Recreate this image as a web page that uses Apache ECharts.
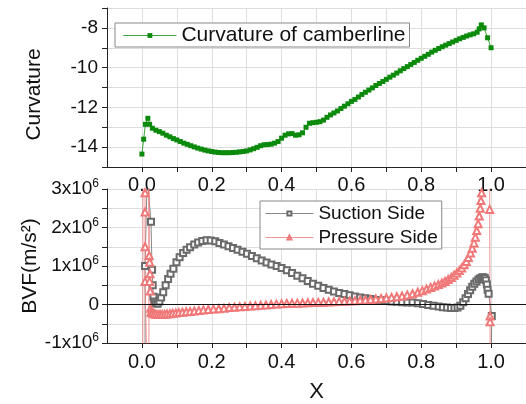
<!DOCTYPE html>
<html><head><meta charset="utf-8">
<script src="https://cdn.jsdelivr.net/npm/echarts@6/dist/echarts.min.js"></script>
<style>html,body{margin:0;padding:0;background:#fff}#c{width:526px;height:404px}</style>
</head><body><div id="c"></div>
<script>
// ---- Curvature of camberline (top panel) ----
const curvX = [0.000,0.005,0.010,0.017,0.022,0.030,0.040,0.050,0.060,0.070,0.080,0.090,0.100,0.110,0.120,0.130,0.140,0.150,0.160,0.170,0.180,0.190,0.200,0.210,0.220,0.230,0.240,0.250,0.260,0.270,0.280,0.290,0.300,0.310,0.320,0.330,0.340,0.350,0.360,0.370,0.380,0.390,0.400,0.410,0.420,0.430,0.440,0.450,0.460,0.470,0.480,0.490,0.500,0.510,0.520,0.530,0.540,0.550,0.560,0.570,0.580,0.590,0.600,0.610,0.620,0.630,0.640,0.650,0.660,0.670,0.680,0.690,0.700,0.710,0.720,0.730,0.740,0.750,0.760,0.770,0.780,0.790,0.800,0.810,0.820,0.830,0.840,0.850,0.860,0.870,0.880,0.890,0.900,0.910,0.920,0.930,0.940,0.950,0.960,0.966,0.972,0.980,0.990,1.000];
const curvY = [-14.35,-13.6,-12.85,-12.55,-12.85,-13.05,-13.15,-13.22,-13.30,-13.40,-13.48,-13.57,-13.64,-13.72,-13.80,-13.86,-13.93,-13.99,-14.05,-14.10,-14.15,-14.19,-14.22,-14.25,-14.27,-14.28,-14.28,-14.28,-14.27,-14.26,-14.24,-14.22,-14.19,-14.14,-14.08,-14.01,-13.93,-13.88,-13.87,-13.85,-13.80,-13.72,-13.55,-13.40,-13.33,-13.32,-13.40,-13.38,-13.28,-13.00,-12.80,-12.77,-12.75,-12.72,-12.64,-12.50,-12.38,-12.28,-12.18,-12.06,-11.94,-11.82,-11.70,-11.60,-11.48,-11.35,-11.24,-11.13,-11.02,-10.90,-10.80,-10.70,-10.59,-10.48,-10.38,-10.27,-10.16,-10.05,-9.95,-9.84,-9.74,-9.63,-9.53,-9.43,-9.33,-9.22,-9.13,-9.04,-8.95,-8.87,-8.79,-8.71,-8.63,-8.55,-8.48,-8.41,-8.35,-8.30,-8.22,-8.05,-7.85,-8.00,-8.50,-9.00];

// ---- BVF (bottom panel) ----
const suctionX = [0.009,0.009,0.015,0.026,0.029,0.031,0.033,0.036,0.040,0.045,0.050,0.055,0.061,0.068,0.075,0.082,0.090,0.099,0.108,0.118,0.128,0.138,0.150,0.161,0.173,0.185,0.197,0.210,0.222,0.235,0.248,0.261,0.274,0.288,0.301,0.315,0.329,0.343,0.357,0.371,0.386,0.400,0.415,0.430,0.445,0.460,0.475,0.490,0.505,0.520,0.535,0.550,0.565,0.580,0.595,0.610,0.625,0.640,0.655,0.670,0.685,0.700,0.715,0.730,0.745,0.760,0.775,0.790,0.805,0.820,0.835,0.850,0.862,0.874,0.885,0.895,0.904,0.912,0.920,0.927,0.934,0.940,0.946,0.952,0.958,0.964,0.969,0.974,0.978,0.982,0.985,0.988,0.990,0.993,1.002,0.996];
const suctionY = [-4e6,1.0e6,3.3e6,2.15e6,0.9e6,0.5e6,0.2e6,0.08e6,0.03e6,0.02e6,0.08e6,0.18e6,0.32e6,0.5e6,0.66e6,0.8e6,0.93e6,1.1e6,1.23e6,1.34e6,1.42e6,1.49e6,1.56e6,1.61e6,1.65e6,1.67e6,1.665e6,1.64e6,1.6e6,1.56e6,1.51e6,1.47e6,1.42e6,1.37e6,1.32e6,1.26e6,1.2e6,1.14e6,1.09e6,1.04e6,1.0e6,0.95e6,0.89e6,0.82e6,0.75e6,0.68e6,0.61e6,0.54e6,0.49e6,0.43e6,0.38e6,0.34e6,0.3e6,0.27e6,0.24e6,0.21e6,0.18e6,0.16e6,0.14e6,0.12e6,0.11e6,0.1e6,0.08e6,0.07e6,0.06e6,0.05e6,0.05e6,0.03e6,0.01e6,-0.01e6,-0.03e6,-0.05e6,-0.07e6,-0.08e6,-0.09e6,-0.09e6,-0.08e6,-0.03e6,0.06e6,0.16e6,0.27e6,0.37e6,0.46e6,0.54e6,0.6e6,0.65e6,0.68e6,0.7e6,0.71e6,0.69e6,0.63e6,0.52e6,0.38e6,0.28e6,-0.3e6,-4e6];
const pressureX = [0.002,0.003,0.009,0.009,0.009,0.009,0.020,0.020,0.021,0.022,0.023,0.022,0.024,0.025,0.026,0.030,0.035,0.040,0.046,0.052,0.058,0.065,0.072,0.080,0.088,0.097,0.106,0.116,0.127,0.138,0.150,0.163,0.176,0.190,0.205,0.220,0.235,0.250,0.265,0.280,0.295,0.310,0.325,0.340,0.355,0.370,0.385,0.400,0.415,0.430,0.445,0.460,0.475,0.490,0.505,0.520,0.535,0.550,0.565,0.580,0.595,0.610,0.625,0.640,0.655,0.670,0.685,0.700,0.715,0.730,0.745,0.760,0.775,0.790,0.803,0.815,0.827,0.838,0.849,0.859,0.868,0.877,0.886,0.894,0.902,0.909,0.916,0.923,0.929,0.935,0.941,0.946,0.951,0.955,0.959,0.963,0.966,0.969,0.971,0.973,0.980,0.996,0.996,0.997,0.997,0.998];
const pressureY = [-4e6,3.5e6,2.9e6,2.4e6,1.5e6,0.6e6,-4e6,3.5e6,1.27e6,1.1e6,0.8e6,0.6e6,0.35e6,-0.1e6,-0.2e6,-0.22e6,-0.24e6,-0.25e6,-0.26e6,-0.26e6,-0.26e6,-0.25e6,-0.245e6,-0.24e6,-0.23e6,-0.22e6,-0.21e6,-0.2e6,-0.19e6,-0.18e6,-0.17e6,-0.155e6,-0.14e6,-0.13e6,-0.12e6,-0.11e6,-0.1e6,-0.08e6,-0.07e6,-0.06e6,-0.05e6,-0.04e6,-0.03e6,-0.02e6,-0.01e6,0,0.01e6,0.02e6,0.025e6,0.03e6,0.035e6,0.04e6,0.045e6,0.05e6,0.055e6,0.06e6,0.065e6,0.07e6,0.08e6,0.085e6,0.09e6,0.1e6,0.11e6,0.12e6,0.13e6,0.14e6,0.155e6,0.17e6,0.185e6,0.2e6,0.22e6,0.25e6,0.28e6,0.32e6,0.36e6,0.4e6,0.44e6,0.48e6,0.52e6,0.56e6,0.6e6,0.65e6,0.7e6,0.76e6,0.82e6,0.88e6,0.95e6,1.03e6,1.12e6,1.22e6,1.34e6,1.46e6,1.6e6,1.75e6,1.92e6,2.1e6,2.3e6,2.5e6,2.7e6,2.9e6,4e6,4e6,2.47e6,-0.3e6,-0.45e6,-4e6];

const curvTickLabels = [-14,-12,-10,-8];
const bvfTickLabels = [-1e6,0,1e6,2e6,3e6];
const xTickLabels = [0.0,0.2,0.4,0.6,0.8,1.0];

const zip = (a, b) => a.map((v, i) => [v, b[i]]);
const FONT = "'Liberation Sans', Arial, sans-serif";

const chart = echarts.init(document.getElementById('c'), null, {renderer: 'canvas'});

const xFmt = v => {
  const hit = xTickLabels.find(t => Math.abs(t - v) < 1e-6);
  return hit === undefined ? '' : hit.toFixed(1);
};
const gridLine = {show: true, lineStyle: {color: '#dedede', width: 1}};
const axisLine = {show: true, onZero: false, lineStyle: {color: '#222', width: 1}};
const tick = {show: true, inside: false, length: 5, lineStyle: {color: '#222'}};

const GREEN = '#0b8a0b', GRAY = '#6a6a6a', RED = '#f07878';

chart.setOption({
  animation: false,
  backgroundColor: '#fff',
  textStyle: {fontFamily: FONT},
  grid: [
    {left: 107, top: 8, width: 419, height: 159},
    {left: 107, top: 189, width: 419, height: 157}
  ],
  legend: [
    {
      data: ['Curvature of camberline'],
      left: 115, top: 23, orient: 'horizontal',
      padding: [2, 4, 1, 8],
      itemWidth: 53, itemHeight: 6, itemGap: 8,
      lineStyle: {width: 0.8},
      borderColor: '#888', borderWidth: 1, backgroundColor: '#fff',
      textStyle: {fontSize: 21, color: '#111', fontFamily: FONT}
    },
    {
      data: ['Suction Side', 'Pressure Side'],
      left: 260, top: 201, orient: 'vertical',
      padding: [3, 4, 2, 5],
      itemWidth: 48, itemHeight: 5, itemGap: 5,
      lineStyle: {width: 0.8},
      borderColor: '#888', borderWidth: 1, backgroundColor: '#fff',
      textStyle: {fontSize: 19, color: '#111', fontFamily: FONT}
    }
  ],
  xAxis: [
    {
      type: 'value', gridIndex: 0, min: -0.1, max: 1.1, interval: 0.1,
      axisLine: axisLine, axisTick: tick, splitLine: gridLine,
      axisLabel: {formatter: xFmt, fontSize: 20, color: '#111', margin: 8, fontFamily: FONT, showMinLabel: false, showMaxLabel: false}
    },
    {
      type: 'value', gridIndex: 1, min: -0.1, max: 1.1, interval: 0.1,
      axisLine: axisLine, axisTick: tick, splitLine: gridLine,
      axisLabel: {formatter: xFmt, fontSize: 20, color: '#111', margin: 9, fontFamily: FONT, showMinLabel: false, showMaxLabel: false},
      name: 'X', nameLocation: 'middle', nameGap: 38,
      nameTextStyle: {fontSize: 22, color: '#111', fontFamily: FONT}
    }
  ],
  yAxis: [
    {
      type: 'value', gridIndex: 0, min: -15, max: -7, interval: 1,
      axisLine: axisLine, axisTick: tick, splitLine: gridLine,
      axisLabel: {
        formatter: v => curvTickLabels.indexOf(Math.round(v)) >= 0 && Math.abs(v - Math.round(v)) < 1e-6 ? String(Math.round(v)) : '',
        fontSize: 19, color: '#111', margin: 9, fontFamily: FONT
      },
      name: 'Curvature', nameLocation: 'middle', nameGap: 62,
      nameTextStyle: {fontSize: 21, color: '#111', fontFamily: FONT, padding: [0, 14, 0, 0]}
    },
    {
      type: 'value', gridIndex: 1, min: -1e6, max: 3e6, interval: 0.5e6,
      axisLine: axisLine, axisTick: tick, splitLine: gridLine,
      axisLabel: {
        formatter: v => {
          const hit = bvfTickLabels.find(t => Math.abs(t - v) < 1);
          if (hit === undefined) return '';
          if (hit === 0) return '{b|0}';
          return '{b|' + Math.round(hit / 1e6) + 'x10}{s|6}';
        },
        rich: {
          b: {fontSize: 19, color: '#111', fontFamily: FONT},
          s: {fontSize: 12, color: '#111', fontFamily: FONT, verticalAlign: 'top', padding: [0, 0, 10, 0]}
        },
        margin: 8
      },
      name: 'BVF(m/s\u00B2)', nameLocation: 'middle', nameGap: 66, nameMoveOverlap: false,
      nameTextStyle: {fontSize: 21, color: '#111', fontFamily: FONT}
    }
  ],
  series: [
    {
      name: 'Curvature of camberline', type: 'line', xAxisIndex: 0, yAxisIndex: 0,
      data: zip(curvX, curvY),
      symbol: 'rect', symbolSize: 5,
      lineStyle: {color: GREEN, width: 0.8},
      itemStyle: {color: GREEN},
      clip: true
    },
    {
      name: 'Suction Side', type: 'line', xAxisIndex: 1, yAxisIndex: 1,
      data: zip(suctionX, suctionY),
      symbol: 'emptyRect', symbolSize: 6,
      lineStyle: {color: GRAY, width: 0.8},
      itemStyle: {color: GRAY, borderWidth: 0.9},
      clip: true,
      markLine: {
        silent: true, symbol: ['none', 'none'], label: {show: false},
        lineStyle: {color: '#111', type: 'solid', width: 1.2},
        data: [{yAxis: 0}]
      }
    },
    {
      name: 'Pressure Side', type: 'line', xAxisIndex: 1, yAxisIndex: 1,
      data: zip(pressureX, pressureY),
      symbol: 'emptyTriangle', symbolSize: 7,
      lineStyle: {color: RED, width: 0.8},
      itemStyle: {color: RED, borderWidth: 0.9},
      clip: true
    }
  ]
});
</script>
</body></html>
